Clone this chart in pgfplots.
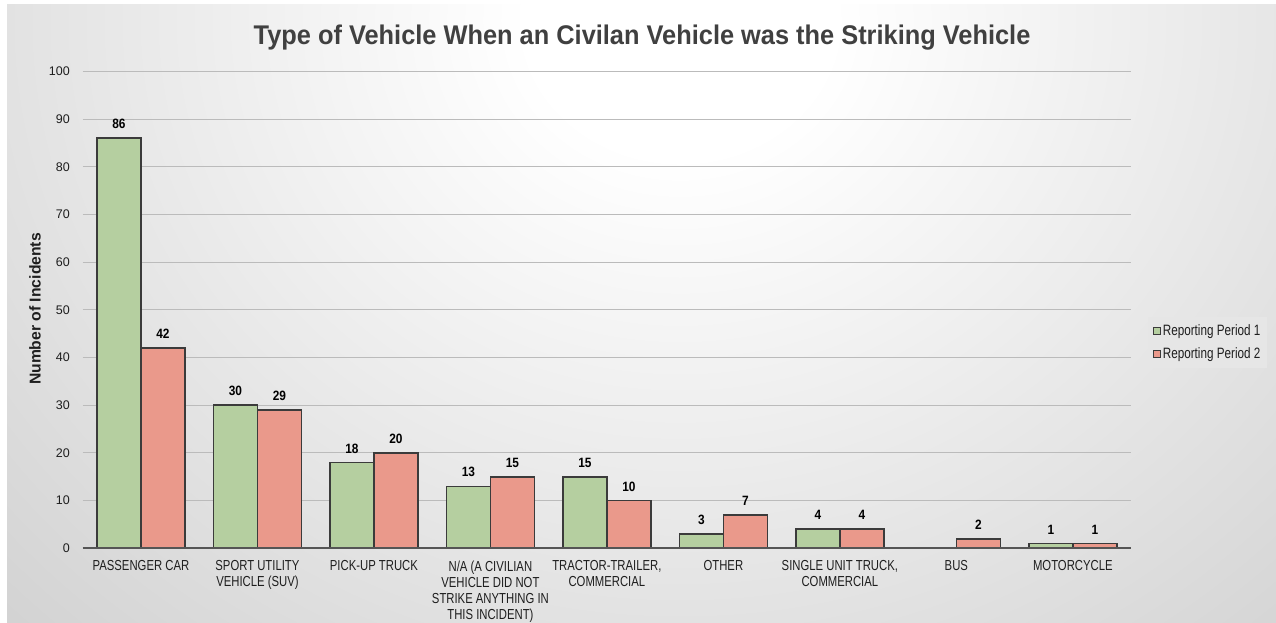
\documentclass[border=0pt]{standalone}
\usepackage{pgfplots}
\pgfplotsset{compat=1.18}
\usepackage{fontspec}
\setmainfont{Liberation Sans}
\newfontfamily\condfont{Liberation Sans}[FakeStretch=0.78]
\newfontfamily\numfont{Liberation Sans}[FakeStretch=0.88]
\newfontfamily\titlefont{Liberation Sans}[FakeStretch=0.94]
\definecolor{pgreen}{HTML}{B5CFA0}
\definecolor{pred}{HTML}{EA998B}
\definecolor{edge}{HTML}{3B3B3B}
\definecolor{titlegray}{HTML}{404040}
\definecolor{bggray}{HTML}{C4C4C4}
\definecolor{gridgray}{HTML}{BBBBBB}
\definecolor{axisgray}{HTML}{555555}
\definecolor{txt}{HTML}{1E1E1E}
\definecolor{legbg}{HTML}{E6E6E6}
\pgfdeclareradialshading{bgshade}{\pgfpoint{0bp}{0bp}}{color(0bp)=(white); color(5bp)=(white); color(40bp)=(bggray); color(50bp)=(bggray)}
\begin{document}
\begin{tikzpicture}[x=1pt,y=1pt]
\fill[white] (0,0) rectangle (1276,-623);
\begin{scope}
\clip (7,-5) rectangle (1276,-623);
\shade[shading=bgshade] (-80,-700) rectangle (1440,660);
\end{scope}
\node[font=\titlefont\bfseries\fontsize{27}{32}\selectfont, text=titlegray, anchor=base] at (642,-44.3) {Type of Vehicle When an Civilan Vehicle was the Striking Vehicle};
\node[rotate=90, font=\bfseries\fontsize{15.7}{18}\selectfont, text=txt] at (35,-309) {Number of Incidents};
\begin{axis}[
  at={(82.7pt,-548.3pt)}, anchor=south west,
  scale only axis, width=1048.5pt, height=477pt,
  xmin=-0.5, xmax=8.5, ymin=0, ymax=100,
  ybar=0pt, bar width=44pt,
  axis line style={draw=none},
  major tick length=0pt,
  ytick={0,10,...,100},
  ymajorgrids, grid style={gridgray, line width=1pt},
  xtick={0,...,8},
  xticklabels={PASSENGER CAR, {SPORT UTILITY\\VEHICLE (SUV)}, PICK-UP TRUCK, {N/A (A CIVILIAN\\VEHICLE DID NOT\\STRIKE ANYTHING IN\\THIS INCIDENT)}, {TRACTOR-TRAILER,\\COMMERCIAL}, OTHER, {SINGLE UNIT TRUCK,\\COMMERCIAL}, BUS, MOTORCYCLE},
  xticklabel style={font=\condfont\fontsize{14.5}{16}\selectfont, align=center, inner sep=0pt, anchor=north, yshift=-12pt, text=txt},
  yticklabel style={font=\fontsize{12.5}{14}\selectfont, inner sep=0pt, anchor=east, xshift=-12.7pt, text=txt},
  /pgf/number format/assume math mode=true,
  nodes near coords,
  every node near coord/.append style={font=\numfont\bfseries\fontsize{13.5}{15}\selectfont, anchor=center, inner sep=0pt, yshift=14pt, text=black},
  legend style={at={(1.016,0.4849)}, anchor=north west, draw=none, fill=legbg, font=\condfont\fontsize{15}{16}\selectfont, inner xsep=5pt, inner ysep=6pt, row sep=8pt, nodes={inner sep=1.5pt}, text=txt},
  legend cell align=left,
  legend image code/.code={\draw[#1, line width=1.3pt] (0pt,-3.5pt) rectangle (7pt,3.5pt);},
  clip=false,
]
\addplot[fill=pgreen, draw=edge, line width=1.5pt] coordinates {(0,86) (1,30) (2,18) (3,13) (4,15) (5,3) (6,4) (8,1)};
\addplot[fill=pred, draw=edge, line width=1.5pt] coordinates {(0,42) (1,29) (2,20) (3,15) (4,10) (5,7) (6,4) (7,2) (8,1)};
\legend{Reporting Period 1, Reporting Period 2}
\draw[axisgray, line width=2pt] (axis cs:-0.5,0) -- (axis cs:8.5,0);
\end{axis}
\pgfresetboundingbox
\useasboundingbox (0,0) rectangle (1276,-623);
\end{tikzpicture}
\end{document}
